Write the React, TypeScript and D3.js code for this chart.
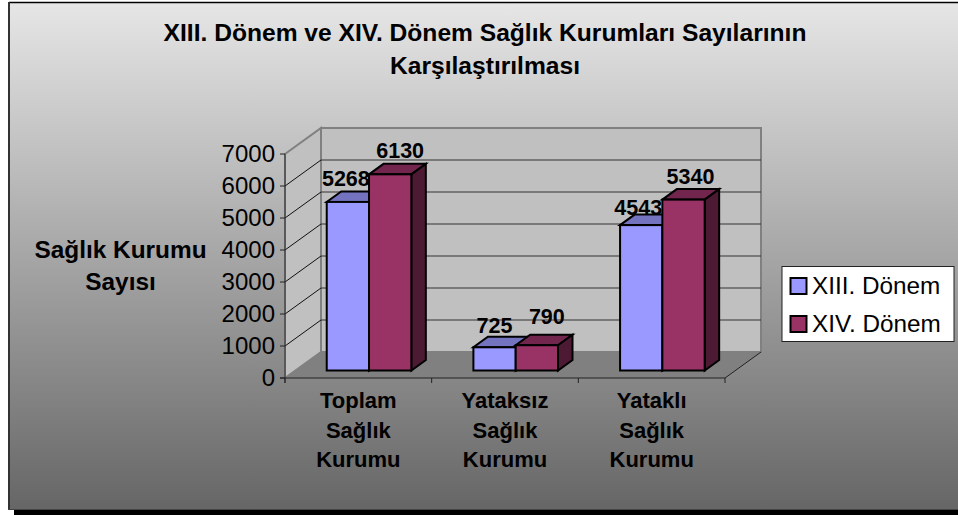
import React from "react";
import * as d3 from "d3";

const categories = [["Toplam", "Sağlık", "Kurumu"], ["Yataksız", "Sağlık", "Kurumu"], ["Yataklı", "Sağlık", "Kurumu"]];
const seriesNames = ["XIII. Dönem", "XIV. Dönem"];
const xiii = [5268, 725, 4543];
const xiv = [6130, 790, 5340];
const ticks = [0, 1000, 2000, 3000, 4000, 5000, 6000, 7000];
const titleLines = ["XIII. Dönem ve XIV. Dönem Sağlık Kurumları Sayılarının", "Karşılaştırılması"];
const yTitleLines = ["Sağlık Kurumu", "Sayısı"];
const labelShiftXiii = [[-2, -16], [0, -14], [-3, -10]];
const labelShiftXiv = [[10, -16], [10, -21], [7, -16]];

const W = 958, H = 515;
const FONT = "'Liberation Sans', Arial, sans-serif";
const front = { x0: 285, x1: 725, y0: 378 };
const depth = { dx: 36, dy: -26 };
const y = d3.scaleLinear().domain([0, 7000]).range([0, -224]);
const x = d3.scaleBand().domain(["0", "1", "2"]).range([front.x0, front.x1]);
const barW = 42.3;
const barOff = { dx: 10.7, dy: -7.5 };
const barD = { dx: 14.5, dy: -10.5 };

const poly = (p: number[][]) => p.map((q) => q.join(",")).join(" ");

function Bar({ left, v, fill, top, side }: { left: number; v: number; fill: string; top: string; side: string }) {
  const b = front.y0 + barOff.dy;
  const t = b + y(v);
  const r = left + barW;
  const { dx, dy } = barD;
  const st = { stroke: "#000", strokeWidth: 2, strokeLinejoin: "miter" as const };
  return (
    <g>
      <polygon points={poly([[left, t], [r, t], [r + dx, t + dy], [left + dx, t + dy]])} fill={top} {...st} />
      <polygon points={poly([[r, t], [r + dx, t + dy], [r + dx, b + dy], [r, b]])} fill={side} {...st} />
      <rect x={left} y={t} width={barW} height={b - t} fill={fill} {...st} />
    </g>
  );
}

export default function App() {
  const y0 = front.y0;
  const bx0 = front.x0 + depth.dx, bx1 = front.x1 + depth.dx, by0 = y0 + depth.dy;
  const wallTop = by0 + y(7000);
  const groups = [0, 1, 2];
  const barLeft = (i: number) => x(String(i))! + x.bandwidth() / 2 + barOff.dx - barW;
  const barTop = (v: number) => y0 + barOff.dy + y(v);
  return (
    <svg width={W} height={H} viewBox={`0 0 ${W} ${H}`} style={{ position: "absolute", left: 0, top: 0 }} fontFamily={FONT}>
      <defs>
        <linearGradient id="bg" x1="0" y1="0" x2="0" y2="1">
          <stop offset="0" stopColor="#e6e6e6" />
          <stop offset="1" stopColor="#666666" />
        </linearGradient>
      </defs>
      <rect x={14} y={505} width={944} height={10} fill="#000" />
      <rect x={9} y={3} width={949} height={507} fill="url(#bg)" />
      <line x1={9} x2={958} y1={2.5} y2={2.5} stroke="#000" strokeWidth={1.5} />
      <line x1={9} x2={9} y1={2} y2={510} stroke="#333" strokeWidth={2} />
      <line x1={8} x2={958} y1={509.5} y2={509.5} stroke="#444" strokeWidth={1} />

      {/* walls */}
      <polygon points={poly([[bx0, wallTop], [bx1, wallTop], [bx1, by0], [bx0, by0]])} fill="#c0c0c0" stroke="#808080" strokeWidth={2} />
      <polygon points={poly([[front.x0, y0 + y(7000)], [bx0, wallTop], [bx0, by0], [front.x0, y0]])} fill="#c0c0c0" stroke="#808080" strokeWidth={2} />
      <polygon points={poly([[front.x0, y0], [bx0, by0], [bx1, by0], [front.x1, y0]])} fill="#808080" />
      {ticks.slice(1, -1).map((t) => (
        <g key={t}>
          <line x1={bx0} x2={bx1} y1={by0 + y(t)} y2={by0 + y(t)} stroke="#333" strokeWidth={1} />
          <line x1={front.x0} x2={bx0} y1={y0 + y(t)} y2={by0 + y(t)} stroke="#111" strokeWidth={1} />
        </g>
      ))}
      <line x1={front.x1} x2={bx1} y1={y0} y2={by0} stroke="#222" strokeWidth={1} />

      {/* axes */}
      <line x1={front.x0} x2={front.x0} y1={y0 + y(7000)} y2={y0 + 5} stroke="#333" strokeWidth={1} />
      <line x1={front.x0 - 5} x2={front.x1} y1={y0} y2={y0} stroke="#222" strokeWidth={1.2} />
      {ticks.map((t) => (
        <g key={t}>
          <line x1={front.x0 - 5} x2={front.x0} y1={y0 + y(t)} y2={y0 + y(t)} stroke="#222" strokeWidth={1} />
          <text x={275} y={y0 + y(t) + 8} textAnchor="end" fontSize={24} fill="#000">{t}</text>
        </g>
      ))}
      {[0, 1, 2, 3].map((i) => {
        const px = front.x0 + i * x.step();
        return <line key={i} x1={px} x2={px} y1={y0} y2={y0 + 5} stroke="#222" strokeWidth={1} />;
      })}

      {/* bars */}
      {groups.map((i) => (
        <g key={i}>
          <Bar left={barLeft(i)} v={xiii[i]} fill="#9999ff" top="#7373bf" side="#4d4d80" />
          <Bar left={barLeft(i) + barW} v={xiv[i]} fill="#993366" top="#73264d" side="#4d1a33" />
        </g>
      ))}

      {/* value labels */}
      {groups.map((i) => (
        <g key={i} fontSize={21.5} fontWeight="bold" textAnchor="middle" fill="#000">
          <text x={barLeft(i) + barW / 2 + labelShiftXiii[i][0]} y={barTop(xiii[i]) + labelShiftXiii[i][1]}>{xiii[i]}</text>
          <text x={barLeft(i) + barW * 1.5 + labelShiftXiv[i][0]} y={barTop(xiv[i]) + labelShiftXiv[i][1]}>{xiv[i]}</text>
        </g>
      ))}

      {/* category labels */}
      {categories.map((c, i) => (
        <g key={i} fontSize={22} fontWeight="bold" textAnchor="middle" fill="#000">
          {c.map((l, j) => (
            <text key={j} x={x(String(i))! + x.bandwidth() / 2} y={408 + j * 29.7}>{l}</text>
          ))}
        </g>
      ))}

      {/* titles */}
      {titleLines.map((l, j) => (
        <text key={j} x={485} y={41 + j * 32.5} textAnchor="middle" fontSize={24.6} fontWeight="bold" fill="#000">{l}</text>
      ))}
      {yTitleLines.map((l, j) => (
        <text key={j} x={120.5} y={258 + j * 32} textAnchor="middle" fontSize={24.4} fontWeight="bold" fill="#000">{l}</text>
      ))}

      {/* legend */}
      <rect x={782} y={266.5} width={172} height={75} fill="#fff" stroke="#222" strokeWidth={1} />
      {seriesNames.map((n, j) => (
        <g key={n}>
          <rect x={790.5} y={278 + j * 38} width={16} height={16} fill={j === 0 ? "#9999ff" : "#993366"} stroke="#000" strokeWidth={2} />
          <text x={812} y={294 + j * 38} fontSize={24.3} fill="#000">{n}</text>
        </g>
      ))}
    </svg>
  );
}
